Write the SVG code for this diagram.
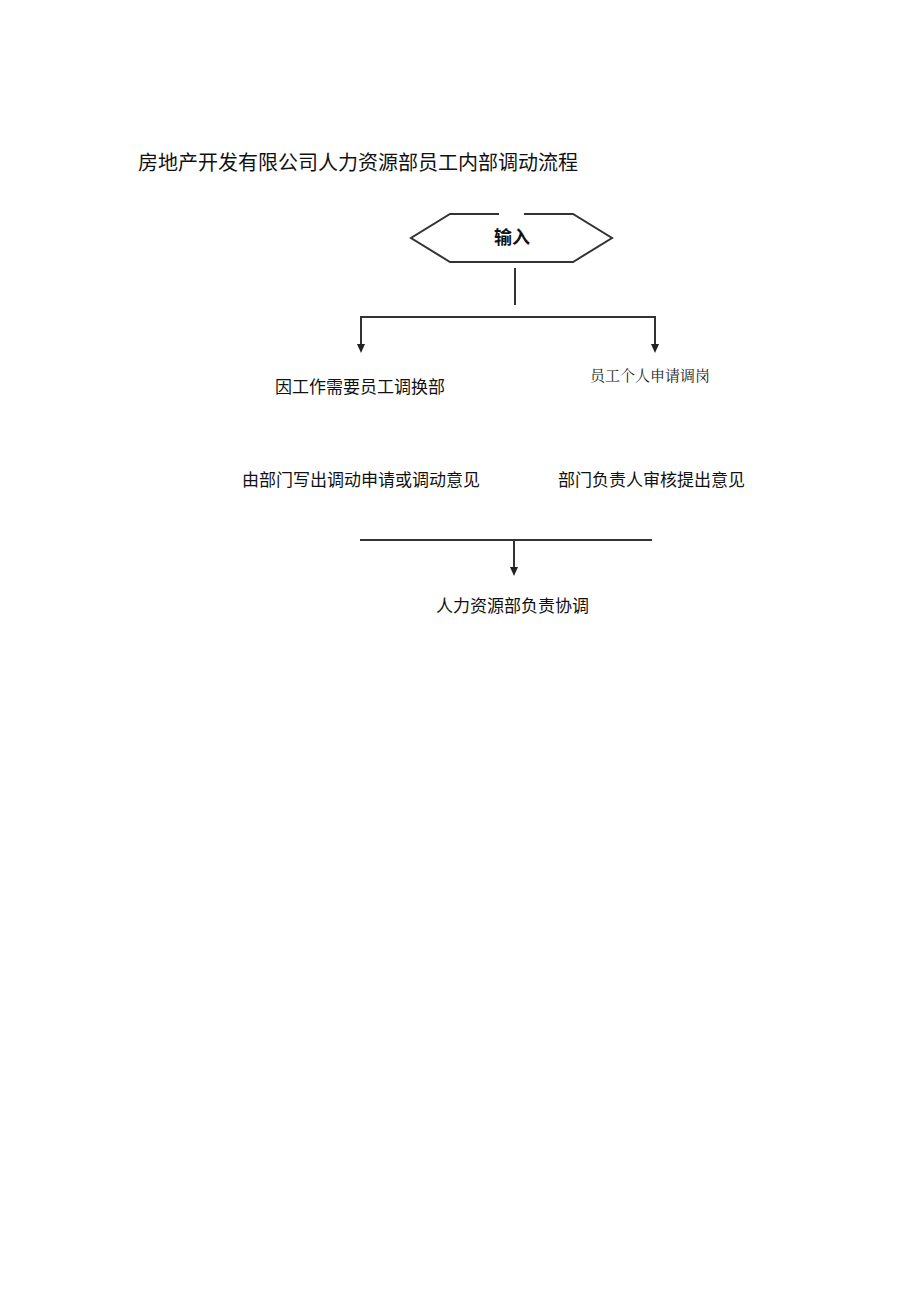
<svg xmlns="http://www.w3.org/2000/svg" width="920" height="1301" viewBox="0 0 920 1301">
<style>
.t{font-family:"Liberation Sans","Noto Sans CJK SC",sans-serif;fill:#111}
.s{font-family:"Liberation Serif","Noto Serif CJK SC","Noto Sans CJK SC",serif;fill:#222}
.ln{stroke:#333;stroke-width:2;fill:none}
</style>
<defs>
<marker id="ar" markerWidth="9" markerHeight="8" refX="1" refY="4" orient="auto" markerUnits="userSpaceOnUse" viewBox="0 0 9 8">
<path d="M0,0 L9,4 L0,8 Z" fill="#222"/>
</marker>
</defs>
<rect width="920" height="1301" fill="#fff"/>
<text class="t" x="138" y="170" font-size="20">房地产开发有限公司人力资源部员工内部调动流程</text>
<g id="input">
<path class="ln" d="M499,214 L450,214 L411,238 L450,262 L573,262 L612,238 L573,214 L524,214" stroke-width="1.6"/>
<text class="t" x="512" y="244" font-size="18" font-weight="bold" text-anchor="middle">输入</text>
</g>
<g id="connectors">
<line class="ln" x1="515" y1="268" x2="515" y2="305" stroke-width="1.4"/>
<line class="ln" x1="360" y1="317" x2="656" y2="317"/>
<path class="ln" d="M361,317 L361,345" marker-end="url(#ar)"/>
<path class="ln" d="M655,317 L655,345" marker-end="url(#ar)"/>
<line class="ln" x1="360" y1="540" x2="652" y2="540"/>
<path class="ln" d="M514,540 L514,568" marker-end="url(#ar)"/>
</g>
<g id="n1"><text class="t" x="275" y="393" font-size="17">因工作需要员工调换部</text></g>
<g id="n2"><text class="s" x="590" y="381" font-size="15">员工个人申请调岗</text></g>
<g id="n3"><text class="t" x="242" y="486" font-size="17">由部门写出调动申请或调动意见</text></g>
<g id="n4"><text class="t" x="558" y="486" font-size="17">部门负责人审核提出意见</text></g>
<g id="n5"><text class="t" x="436" y="612" font-size="17">人力资源部负责协调</text></g>
</svg>
